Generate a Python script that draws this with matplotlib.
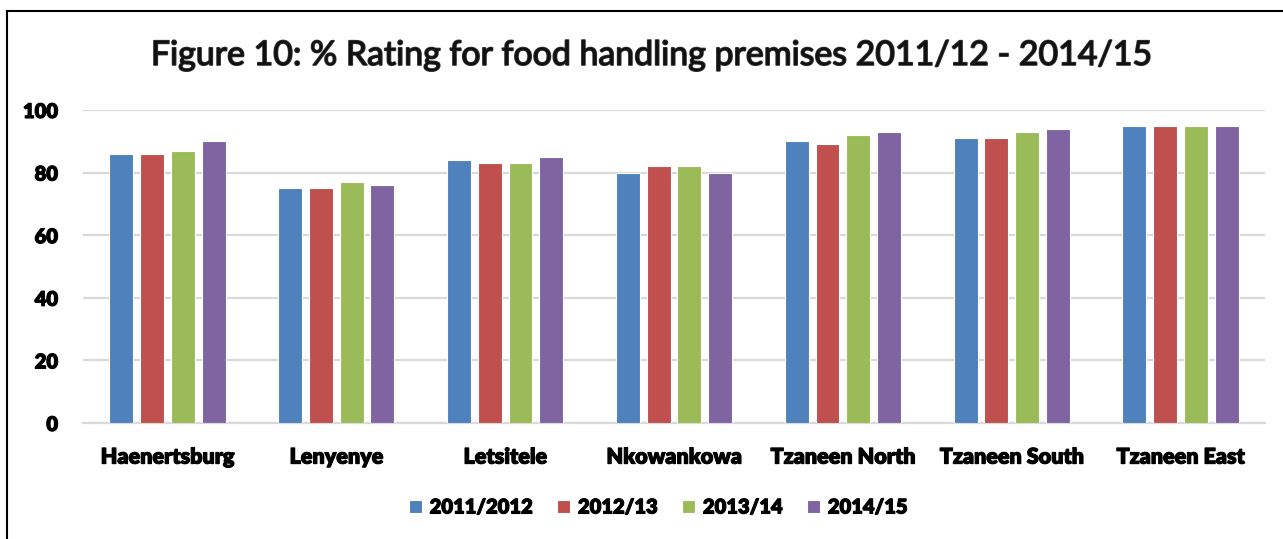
import matplotlib
matplotlib.use("Agg")
import matplotlib.pyplot as plt
import numpy as np
from matplotlib.lines import Line2D
import matplotlib.patheffects as pe

plt.rcParams['font.family'] = ['Lato', 'DejaVu Sans']

categories = ["Haenertsburg", "Lenyenye", "Letsitele", "Nkowankowa",
              "Tzaneen North", "Tzaneen South", "Tzaneen East"]
series_names = ["2011/2012", "2012/13", "2013/14", "2014/15"]
values_2011_12 = [86, 75, 84, 80, 90, 91, 95]
values_2012_13 = [86, 75, 83, 82, 89, 91, 95]
values_2013_14 = [87, 77, 83, 82, 92, 93, 95]
values_2014_15 = [90, 76, 85, 80, 93, 94, 95]
colors = ["#4F81BD", "#C0504D", "#9BBB59", "#8064A2"]
yticks = [0, 20, 40, 60, 80, 100]

series = [values_2011_12, values_2012_13, values_2013_14, values_2014_15]

W, H = 1283, 539
fig = plt.figure(figsize=(W / 100, H / 100), dpi=100)
ax = fig.add_axes([83 / W, 1 - 423 / H, (1265 - 83) / W, (423 - 110) / H])

x = np.arange(len(categories))
step = 0.182
width = 0.142
for i, (vals, name, c) in enumerate(zip(series, series_names, colors)):
    ax.bar(x + (i - 1.5) * step, vals, width, color=c, label=name,
           edgecolor="white", linewidth=0.8, zorder=3)

label_fx = [pe.withStroke(linewidth=0.8, foreground="black")]

ax.set_xlim(-0.5, len(categories) - 0.5)
ax.set_ylim(0, 100)
ax.set_yticks(yticks)
ax.set_yticklabels([str(t) for t in yticks], fontsize=14.5, fontweight="heavy")
ax.set_xticks(x)
ax.set_xticklabels(categories, fontsize=15.5, fontweight="heavy")
for t in ax.get_xticklabels() + ax.get_yticklabels():
    t.set_path_effects(label_fx)
ax.tick_params(axis="both", length=0)
ax.tick_params(axis="y", pad=18)
ax.tick_params(axis="x", pad=17)
ax.grid(axis="y", color="#d9d9d9", linewidth=1.6, zorder=0)
for s in ["top", "right", "left"]:
    ax.spines[s].set_visible(False)
ax.spines["bottom"].set_color("#d9d9d9")
ax.spines["bottom"].set_linewidth(1.6)

fig.text(651 / W, 1 - 55 / H,
         "Figure 10: % Rating for food handling premises 2011/12 - 2014/15",
         ha="center", va="center", fontsize=24.4, color="#111111",
         path_effects=[pe.withStroke(linewidth=1.2, foreground="#333333")])

leg = fig.legend(loc="center", bbox_to_anchor=(658 / W, 1 - 507 / H), ncol=4,
                 frameon=False, prop={"size": 14.5, "weight": "heavy"},
                 handlelength=0.65, handleheight=0.65, handletextpad=0.4,
                 columnspacing=1.2)
for t in leg.get_texts():
    t.set_path_effects(label_fx)

# outer chart frame
fig.add_artist(Line2D([7 / W, 1.0], [1 - 11 / H, 1 - 11 / H],
                      transform=fig.transFigure, color="black", linewidth=1.5))
fig.add_artist(Line2D([7 / W, 7 / W], [1 - 11 / H, 0.0],
                      transform=fig.transFigure, color="black", linewidth=1.5))

fig.savefig("out.png", dpi=100)
